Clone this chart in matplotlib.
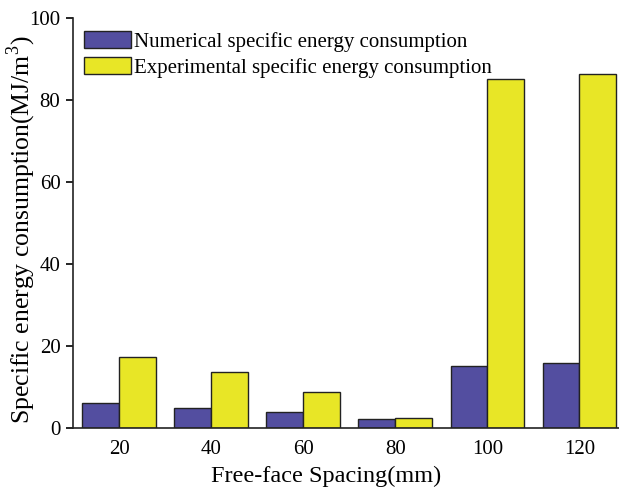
import matplotlib
matplotlib.use("Agg")
import matplotlib.pyplot as plt
import numpy as np

spacing = ["20", "40", "60", "80", "100", "120"]
numerical = [6.0, 4.9, 3.8, 2.2, 15.2, 15.9]
experimental = [17.4, 13.6, 8.8, 2.5, 85.1, 86.3]

plt.rcParams['font.family'] = ['Liberation Serif', 'DejaVu Serif']
plt.rcParams['mathtext.fontset'] = 'custom'
plt.rcParams['mathtext.rm'] = 'Liberation Serif'

fig = plt.figure(figsize=(6.19, 4.91), dpi=100)
ax = fig.add_axes([73/619, 63/491, 546/619, 410/491])

x = np.arange(len(spacing))
w = 0.4
ax.bar(x - w/2, numerical, w, color='#534EA0', edgecolor='#222222', linewidth=1.0,
       label='Numerical specific energy consumption')
ax.bar(x + w/2, experimental, w, color='#E8E626', edgecolor='#222222', linewidth=1.0,
       label='Experimental specific energy consumption')

ax.set_xlim(-0.5, 5.43)
ax.set_ylim(0, 100)
ax.set_yticks([0, 20, 40, 60, 80, 100])
ax.set_xticks(x)
ax.set_xticklabels(spacing)
ax.tick_params(axis='x', length=0, labelsize=15, pad=9)
ax.tick_params(axis='y', direction='out', length=5, width=1.2, labelsize=15, pad=4)
for s in ['top', 'right']:
    ax.spines[s].set_visible(False)
for s in ['left', 'bottom']:
    ax.spines[s].set_linewidth(1.2)
    ax.spines[s].set_color('#222222')

ax.set_xlabel('Free-face Spacing(mm)', fontsize=17.5)
ax.set_ylabel('Specific energy consumption(MJ/m$^3$)', fontsize=18.5)
ax.xaxis.set_label_coords(0.463, -0.092)
ax.yaxis.set_label_coords(-0.064, 0.483)

ax.legend(loc='upper left', bbox_to_anchor=(0.0193, 0.968), frameon=False, fontsize=15,
          handlelength=2.26, handleheight=0.87, handletextpad=0.15, labelspacing=0.25,
          borderaxespad=0.0, borderpad=0.0)

fig.savefig('out.png', dpi=100)
